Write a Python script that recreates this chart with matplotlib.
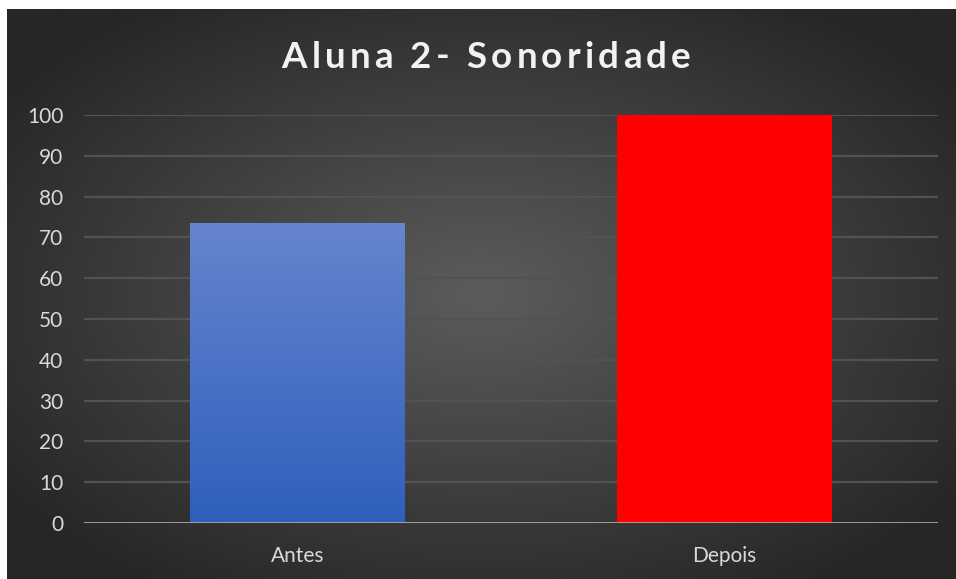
import numpy as np
import matplotlib
matplotlib.use("Agg")
import matplotlib.pyplot as plt
from matplotlib.colors import LinearSegmentedColormap

categories = ["Antes", "Depois"]
values = [73.5, 100]
yticks = [0, 10, 20, 30, 40, 50, 60, 70, 80, 90, 100]
title = "Aluna 2- Sonoridade"

W, H = 956, 579
fig = plt.figure(figsize=(W / 100, H / 100), dpi=100)
fig.patch.set_facecolor("white")

# background with radial gradient
bg = fig.add_axes([7 / W, 0, (W - 7) / W, (H - 9) / H])
bg.set_axis_off()
yy, xx = np.mgrid[0:1:300j, 0:1:500j]
r = np.sqrt(((xx - 0.5) / 0.62) ** 2 + ((yy - 0.5) / 0.62) ** 2)
r = np.clip(r, 0, 1)
c_in = np.array([0x5c, 0x5c, 0x5c]) / 255
c_out = np.array([0x26, 0x26, 0x26]) / 255
img = c_in[None, None, :] * (1 - r[..., None]) + c_out[None, None, :] * r[..., None]
bg.imshow(img, extent=[0, 1, 0, 1], aspect="auto", origin="lower")
bg.set_xlim(0, 1)
bg.set_ylim(0, 1)

ax = fig.add_axes([84 / W, 56 / H, (938 - 84) / W, (523 - 115) / H])
ax.set_facecolor("none")
x = np.arange(len(categories))
bars = ax.bar(x, values, width=0.503, color=["#4472c4", "#ff0000"], zorder=3)
ax.set_xlim(-0.5, len(categories) - 0.5)
ax.set_ylim(0, 100)

# blue gradient fill for first bar
blue = LinearSegmentedColormap.from_list("b", ["#2f5fbd", "#6585cd"])
b0 = bars[0]
grad = np.linspace(0, 1, 256).reshape(-1, 1)
im = ax.imshow(grad, cmap=blue, origin="lower", aspect="auto", zorder=4,
               extent=[b0.get_x(), b0.get_x() + b0.get_width(), 0, b0.get_height()])
im.set_clip_path(b0)

for v in yticks[1:]:
    ax.axhline(v, color="#525252", lw=1.6, zorder=1)
ax.axhline(0, color="#a6a6a6", lw=2, zorder=5)

ax.set_yticks(yticks)
ax.set_xticks(x)
ax.set_xticklabels(categories)
for s in ax.spines.values():
    s.set_visible(False)
ax.tick_params(axis="y", length=0, pad=15, labelsize=15, labelcolor="#d9d9d9")
ax.tick_params(axis="x", length=0, pad=16.5, labelsize=15, labelcolor="#d9d9d9")
for lab in ax.get_xticklabels() + ax.get_yticklabels():
    lab.set_fontfamily("Lato")

# title with letter spacing, drawn character by character
renderer = fig.canvas.get_renderer()
tkw = dict(color="#f2f2f2", fontsize=26.5, fontweight="bold", fontfamily="Lato",
           va="center", ha="left")
spacing = 4.2  # px between letters
widths = []
for ch in title:
    t = fig.text(0, 0, ch if ch != " " else "a a", **tkw)
    w = t.get_window_extent(renderer).width
    if ch == " ":
        t2 = fig.text(0, 0, "aa", **tkw)
        w = w - t2.get_window_extent(renderer).width
        t2.remove()
    widths.append(w)
    t.remove()
total = sum(widths) + spacing * (len(title) - 1)
xpos = 486 - total / 2
ypix = H - 57
for ch, w in zip(title, widths):
    if ch != " ":
        fig.text(xpos / W, ypix / H, ch, **tkw)
    xpos += w + spacing

fig.savefig("out.png", dpi=100, facecolor=fig.get_facecolor())
